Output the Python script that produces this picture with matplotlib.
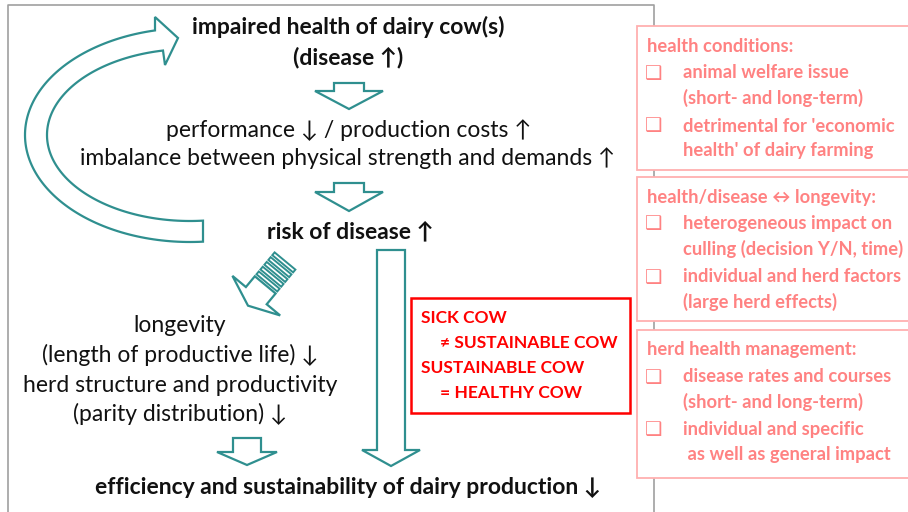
import numpy as np
import matplotlib.pyplot as plt
from matplotlib.patches import Polygon, Rectangle

plt.rcParams['font.family'] = ['Lato', 'DejaVu Sans']

TEAL = '#2f8f8f'
PINK_TXT = '#ff8282'
PINK_BOX = '#ffb0b0'

# main flow text: (text, x, y, bold)
flow_text = [
    ('impaired health of dairy cow(s)', 348, 27, True),
    ('(disease \u2191)', 348, 57, True),
    ('performance \u2193 / production costs \u2191', 349, 130, False),
    ('imbalance between physical strength and demands \u2191', 348, 158, False),
    ('risk of disease \u2191', 350, 232, True),
    ('longevity', 180, 325, False),
    ('(length of productive life) \u2193', 180, 355, False),
    ('herd structure and productivity', 180, 385, False),
    ('(parity distribution) \u2193', 180, 414, False),
    ('efficiency and sustainability of dairy production \u2193', 348, 488, True),
]

# red box lines
red_lines = ['SICK COW', '\u2260 SUSTAINABLE COW', 'SUSTAINABLE COW', '= HEALTHY COW']
red_indent = [0, 1, 0, 1]

# right-hand boxes: title, then bullet items (each a list of lines)
side_boxes = [
    ('health conditions:',
     [['animal welfare issue', '(short- and long-term)'],
      ["detrimental for 'economic", "health' of dairy farming"]]),
    ('health/disease \u2194 longevity:',
     [['heterogeneous impact on', 'culling (decision Y/N, time)'],
      ['individual and herd factors', '(large herd effects)']]),
    ('herd health management:',
     [['disease rates and courses', '(short- and long-term)'],
      ['individual and specific', ' as well as general impact']]),
]
side_top = [26, 177, 330]
side_bottom = [170, 321, 478]


def down_arrow(ax, cx, top, base, tip, sw, hw):
    pts = [(cx - sw, top), (cx + sw, top), (cx + sw, base), (cx + hw, base),
           (cx, tip), (cx - hw, base), (cx - sw, base)]
    ax.add_patch(Polygon(pts, closed=True, fill=False, ec=TEAL, lw=1.6, joinstyle='miter'))


def striped_arrow(ax, tail, d, sw, hw, base_s, tip_s, n_stripes=5):
    d = np.array(d, float)
    d /= np.linalg.norm(d)
    n = np.array([d[1], -d[0]]) * -1
    tail = np.array(tail, float)

    def P(s, w):
        return tail + d * s + n * w
    stripe_w, gap = 3.6, 2.6
    s = 0.0
    for i in range(n_stripes):
        pts = [P(s, -sw), P(s, sw), P(s + stripe_w, sw), P(s + stripe_w, -sw)]
        ax.add_patch(Polygon(pts, closed=True, fill=False, ec=TEAL, lw=1.4))
        s += stripe_w + gap
    pts = [P(s, -sw), P(s, sw), P(base_s, sw), P(base_s, hw), P(tip_s, 0),
           P(base_s, -hw), P(base_s, -sw)]
    ax.add_patch(Polygon(pts, closed=True, fill=False, ec=TEAL, lw=1.6))


def curved_arrow(ax):
    cx, cy = 190, 135
    orx, ory = 165, 107
    irx, iry = 143, 86
    t_out0 = np.arccos(13 / orx)
    t_in0 = np.arccos(13 / irx)
    t_out1 = np.pi + np.arccos(35 / orx)
    t_in1 = np.pi + np.arccos(27 / irx)
    to = np.linspace(t_out0, t_out1, 120)
    ti = np.linspace(t_in1, t_in0, 120)
    outer = np.c_[cx + orx * np.cos(to), cy + ory * np.sin(to)]
    inner = np.c_[cx + irx * np.cos(ti), cy + iry * np.sin(ti)]
    head = np.array([[155, 17], [178, 38], [165, 65]])
    pts = np.vstack([outer, head, inner])
    ax.add_patch(Polygon(pts, closed=True, fill=False, ec=TEAL, lw=1.6))


fig = plt.figure(figsize=(9.08, 5.12), dpi=100)
ax = fig.add_axes([0, 0, 1, 1])
ax.set_xlim(0, 908)
ax.set_ylim(512, 0)
ax.axis('off')

# grey frame
ax.plot([8, 8, 654, 654], [515, 5, 5, 515], color='#a0a0a0', lw=1.2, zorder=0)

curved_arrow(ax)
down_arrow(ax, 349, 83, 91, 109, 15, 34)
down_arrow(ax, 349, 183, 192, 211, 15, 34)
down_arrow(ax, 391, 250, 450, 466, 14, 29)
down_arrow(ax, 247, 438, 452, 465, 14, 30)
striped_arrow(ax, (285, 261), (-29, 35), 13.5, 31, 45, 58)

for txt, x, y, bold in flow_text:
    ax.text(x, y, txt, ha='center', va='center', fontsize=16.5,
            fontweight='bold' if bold else 'normal', color='#111111')

# red box
ax.add_patch(Rectangle((411, 298), 219, 115, fill=False, ec='#ff0000', lw=1.8))
for i, (line, ind) in enumerate(zip(red_lines, red_indent)):
    ax.text(421 + 19 * ind, 318 + 25 * i, line, ha='left', va='center',
            fontsize=12.5, fontweight='bold', color='#ff0000')

# right boxes
for (title, items), top, bot in zip(side_boxes, side_top, side_bottom):
    ax.add_patch(Rectangle((637, top), 290, bot - top, fill=True, fc='white',
                           ec=PINK_BOX, lw=1.3, zorder=2))
    y = top + 20
    ax.text(647, y, title, ha='left', va='center', fontsize=13.2,
            fontweight='bold', color=PINK_TXT, zorder=3)
    y += 27
    for item in items:
        ax.text(645, y, '\u2751', ha='left', va='center', fontsize=14,
                color=PINK_TXT, zorder=3, family='DejaVu Sans')
        for line in item:
            ax.text(683, y, line, ha='left', va='center', fontsize=13.2,
                    fontweight='bold', color=PINK_TXT, zorder=3)
            y += 24.5
        y += 4

fig.savefig('out.png', dpi=100)
